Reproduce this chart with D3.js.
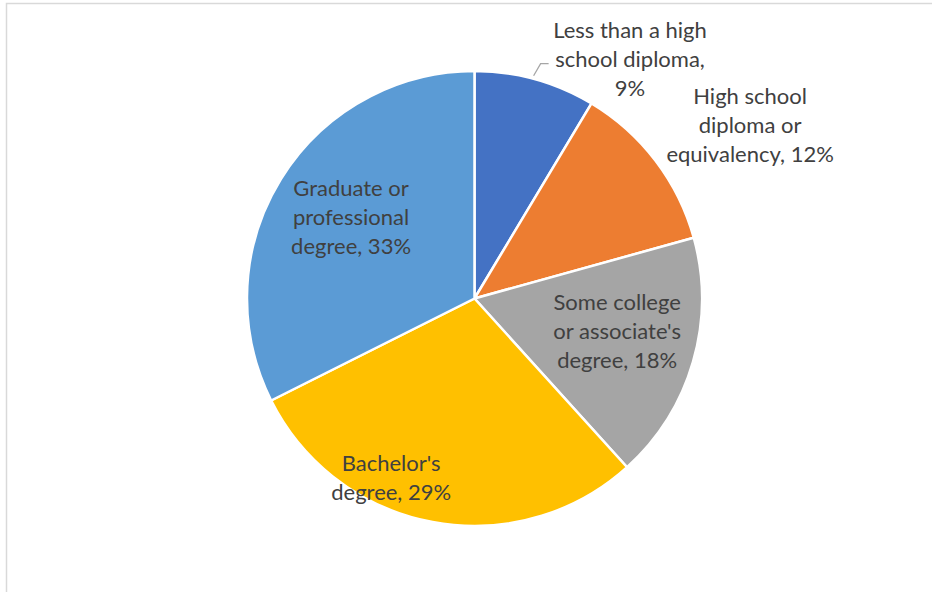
<!DOCTYPE html>
<html>
<head>
<meta charset="utf-8">
<script src="https://cdn.jsdelivr.net/npm/d3@7/dist/d3.min.js"></script>
<style>
  body { margin: 0; background: #fff; }
  svg { display: block; }
</style>
</head>
<body>
<div id="chart"></div>
<script>
// data
var categories = ["Less than a high school diploma", "High school diploma or equivalency",
    "Some college or associate's degree", "Bachelor's degree", "Graduate or professional degree"];
var shares = [8.6, 12.1, 17.6, 29.3, 32.4];      // slice sizes
var shownPct = [9, 12, 18, 29, 33];                // percentages printed on the labels
var labelLines = [
    ["Less than a high", "school diploma,", "9%"],
    ["High school", "diploma or", "equivalency, 12%"],
    ["Some college", "or associate's", "degree, 18%"],
    ["Bachelor's", "degree, 29%"],
    ["Graduate or", "professional", "degree, 33%"]
];
var colors = ["#4472C4", "#ED7D31", "#A5A5A5", "#FFC000", "#5B9BD5"];

// label placement: angle (deg from top, clockwise) and radius as a fraction of the pie radius
var labelPolar = [[33, 1.255], [57.9, 1.43], [102.8, 0.643], [204.9, 0.87], [303.4, 0.65]];

var width = 932, height = 592;
var cx = 474.5, cy = 298.5, radius = 227.5;

var svg = d3.select("#chart")
    .append("svg")
    .attr("width", width)
    .attr("height", height);

// chart area border (runs off the right and bottom)
svg.append("rect")
    .attr("x", 6.5)
    .attr("y", 3.5)
    .attr("width", 1000)
    .attr("height", 700)
    .style("fill", "none")
    .style("stroke", "#d9d9d9")
    .style("stroke-width", 1.5);

var data = categories.map(function(c, i) {
    return {name: c, value: shares[i], pct: shownPct[i], lines: labelLines[i], idx: i};
});

var pie = d3.pie()
    .sort(null)
    .value(function(d) { return d.value; });

var arc = d3.arc()
    .innerRadius(0)
    .outerRadius(radius);

var g = svg.append("g")
    .attr("transform", "translate(" + cx + "," + cy + ")");

var arcs = pie(data);

g.selectAll("path.slice")
    .data(arcs)
    .enter()
    .append("path")
    .attr("class", "slice")
    .attr("d", arc)
    .style("fill", function(d) { return colors[d.data.idx]; })
    .style("stroke", "#fff")
    .style("stroke-width", 2.5)
    .style("stroke-linejoin", "round");

function polar(deg, r) {
    var a = deg * Math.PI / 180;
    return [Math.sin(a) * r, -Math.cos(a) * r];
}

// leader line for the first (small) slice
var startAngle = arcs[0].startAngle + (arcs[0].endAngle - arcs[0].startAngle) * 0.48;
var p0 = polar(startAngle * 180 / Math.PI, radius + 3);
var p1 = [p0[0] + 7, p0[1] - 12];
var p2 = [p1[0] + 8, p1[1]];
g.append("path")
    .attr("d", d3.line()([p0, p1, p2]))
    .style("fill", "none")
    .style("stroke", "#a6a6a6")
    .style("stroke-width", 1.3);

var lineH = 29;
var labels = g.selectAll("text.lbl")
    .data(arcs)
    .enter()
    .append("text")
    .attr("class", "lbl")
    .attr("text-anchor", "middle")
    .style("font-family", "Lato, 'Open Sans', sans-serif")
    .style("font-size", "22px")
    .style("fill", "#404040")
    .attr("transform", function(d) {
        var lp = labelPolar[d.data.idx];
        var p = polar(lp[0], lp[1] * radius);
        return "translate(" + p[0] + "," + p[1] + ")";
    });

labels.selectAll("tspan")
    .data(function(d) { return d.data.lines.map(function(t, j) { return {t: t, j: j, n: d.data.lines.length}; }); })
    .enter()
    .append("tspan")
    .attr("x", 0)
    .attr("y", function(d) { return (d.j - (d.n - 1) / 2) * lineH; })
    .attr("dy", "0.35em")
    .text(function(d) { return d.t; });
</script>
</body>
</html>
